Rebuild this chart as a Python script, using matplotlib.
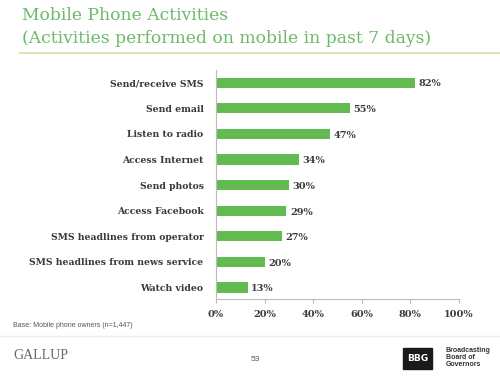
import matplotlib.pyplot as plt
import numpy as np
from matplotlib.patches import Rectangle

activities = ['Send/receive SMS', 'Send email', 'Listen to radio', 'Access Internet',
              'Send photos', 'Access Facebook', 'SMS headlines from operator',
              'SMS headlines from news service', 'Watch video']
percent = [82, 55, 47, 34, 30, 29, 27, 20, 13]
xticks = [0, 20, 40, 60, 80, 100]

green = '#62bb51'
title_green = '#6cb96a'
dark = '#3a3a3a'

fig = plt.figure(figsize=(5, 3.82), dpi=100)
ax = fig.add_axes([0.432, 0.217, 0.486, 0.6])

y = np.arange(len(activities))
ax.barh(y, percent, height=0.4, color=green)
ax.set_ylim(8.45, -0.5)
ax.set_xlim(0, 100)
ax.set_yticks(y)
ax.set_yticklabels(activities, family='DejaVu Serif', fontweight='bold', fontsize=6.7, color=dark)
ax.tick_params(axis='y', length=0, pad=9)
ax.set_xticks(xticks)
ax.set_xticklabels([f'{t}%' for t in xticks], family='DejaVu Serif', fontweight='bold',
                   fontsize=7, color=dark)
ax.tick_params(axis='x', length=3, color='#bbbbbb', pad=5)
for s in ['top', 'right']:
    ax.spines[s].set_visible(False)
for s in ['left', 'bottom']:
    ax.spines[s].set_color('#bbbbbb')

for yi, v in zip(y, percent):
    ax.text(v + 1.5, yi + 0.05, f'{v}%', va='center', ha='left', family='DejaVu Serif',
            fontweight='bold', fontsize=7, color=dark)

# header
fig.text(0.044, 0.96, 'Mobile Phone Activities', family='DejaVu Serif', fontsize=12.3,
         color=title_green, va='center')
fig.text(0.044, 0.9, '(Activities performed on mobile in past 7 days)', family='DejaVu Serif',
         fontsize=12.3, color=title_green, va='center')
fig.add_artist(plt.Line2D([0.04, 1.0], [0.862, 0.862], color='#c8e4a4', lw=1.2))

# footer
fig.text(0.026, 0.148, 'Base: Mobile phone owners (n=1,447)', family='Liberation Sans',
         fontsize=5, color='#555555', va='center')
fig.add_artist(plt.Line2D([0.0, 1.0], [0.12, 0.12], color='#eeeeee', lw=1))
fig.text(0.026, 0.07, 'GALLUP', family='Liberation Serif', fontsize=10, color='#666666',
         va='center')
fig.text(0.51, 0.06, '53', family='Liberation Sans', fontsize=6, color='#555555',
         va='center', ha='center')
fig.add_artist(Rectangle((0.806, 0.035), 0.058, 0.055, transform=fig.transFigure,
                         color='#1a1a1a'))
fig.text(0.835, 0.062, 'BBG', family='DejaVu Sans', fontsize=6.5, fontweight='bold',
         color='white', va='center', ha='center')
fig.text(0.892, 0.065, 'Broadcasting\nBoard of\nGovernors', family='Liberation Sans',
         fontsize=5, fontweight='bold', color='#333333', va='center', linespacing=1.0)

fig.savefig('out.png', dpi=100)
